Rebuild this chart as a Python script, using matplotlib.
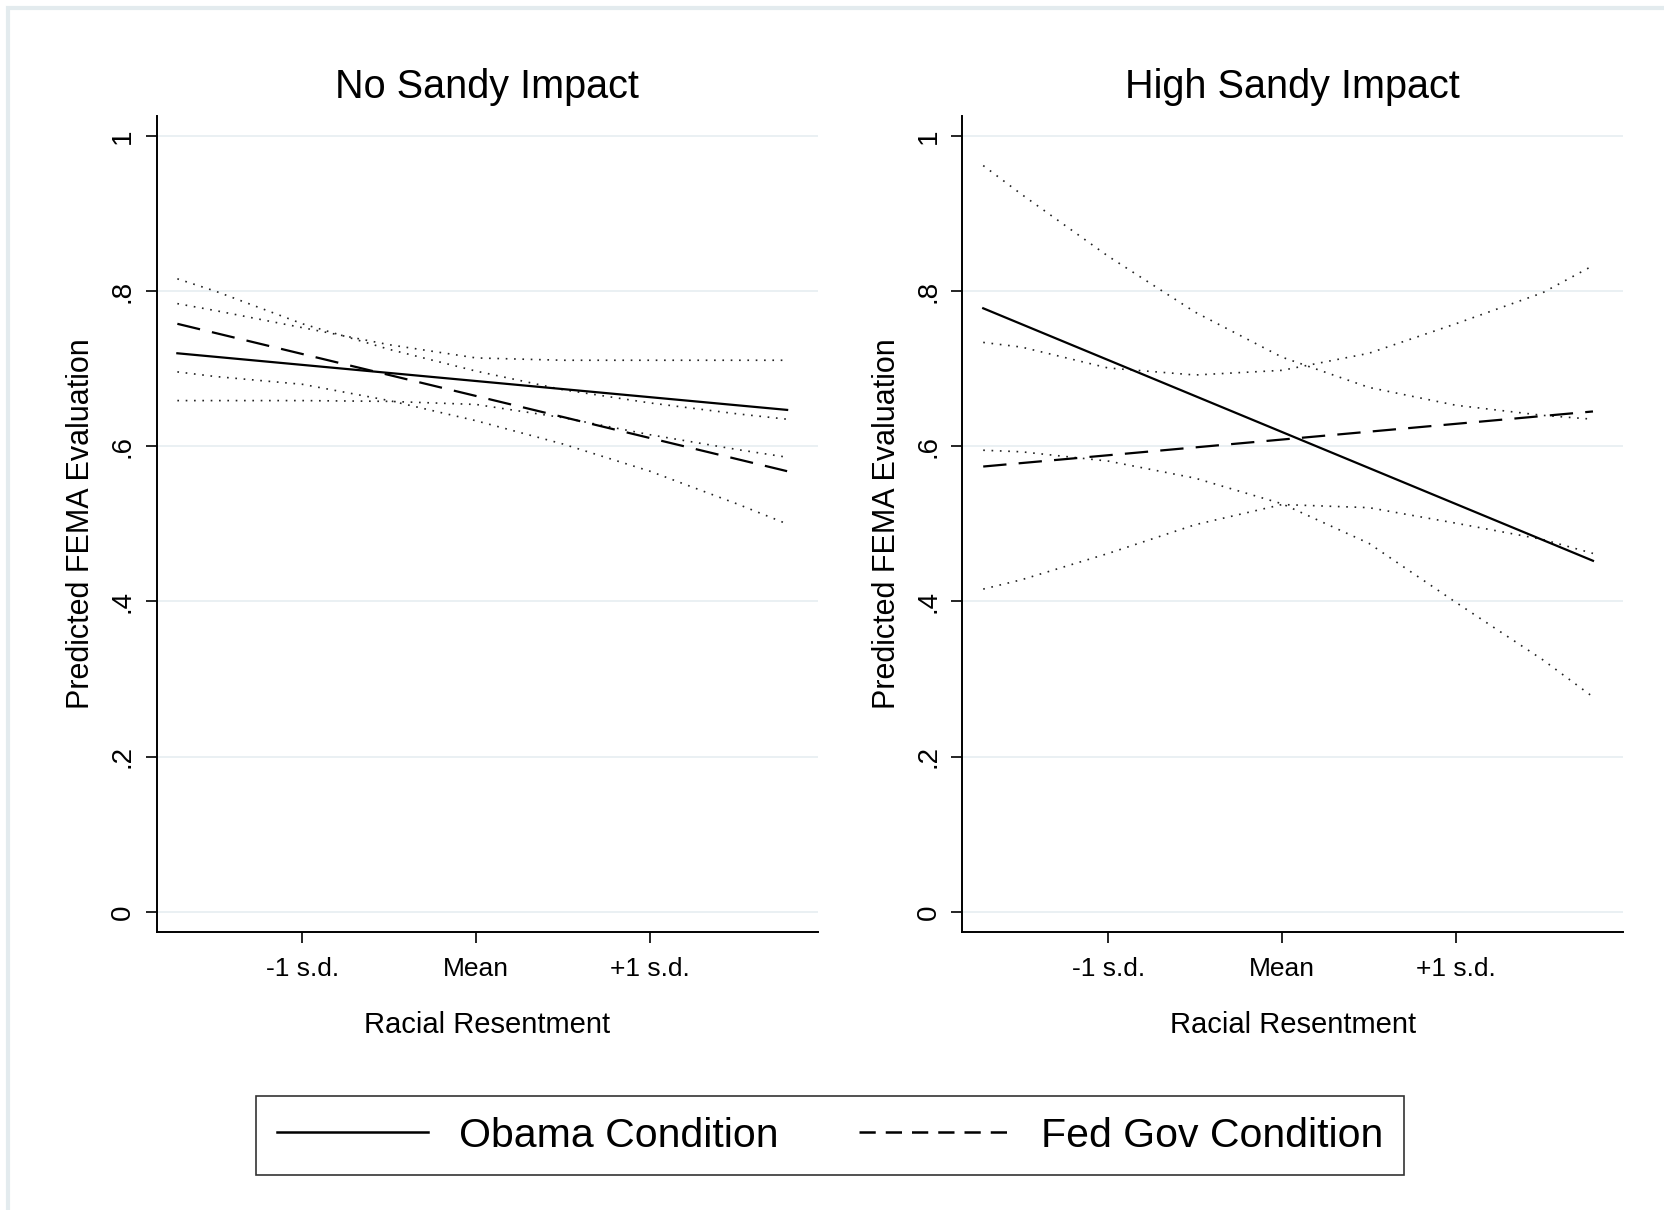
import matplotlib.pyplot as plt
from matplotlib.patches import Rectangle
from matplotlib.lines import Line2D

plt.rcParams['font.family'] = ['Liberation Sans', 'DejaVu Sans']

# racial resentment, in s.d. units around the mean
x_line = [-1.72, 1.79]
x_ci = [-1.72, -1.5, -1.0, -0.5, 0.0, 0.5, 1.0, 1.5, 1.79]

# No Sandy Impact
no_obama = [0.720, 0.647]
no_fed = [0.758, 0.568]
no_obama_hi = [0.784, 0.775, 0.753, 0.731, 0.714, 0.711, 0.711, 0.711, 0.711]
no_obama_lo = [0.659, 0.659, 0.659, 0.658, 0.654, 0.637, 0.615, 0.596, 0.586]
no_fed_hi = [0.816, 0.800, 0.758, 0.725, 0.697, 0.673, 0.656, 0.642, 0.635]
no_fed_lo = [0.696, 0.690, 0.680, 0.659, 0.633, 0.603, 0.568, 0.526, 0.500]

# High Sandy Impact
hi_obama = [0.778, 0.4525]
hi_fed = [0.574, 0.645]
hi_obama_hi = [0.962, 0.925, 0.845, 0.773, 0.715, 0.676, 0.653, 0.640, 0.635]
hi_obama_lo = [0.595, 0.593, 0.581, 0.559, 0.526, 0.475, 0.399, 0.325, 0.277]
hi_fed_hi = [0.734, 0.728, 0.701, 0.692, 0.698, 0.720, 0.758, 0.798, 0.833]
hi_fed_lo = [0.416, 0.428, 0.462, 0.499, 0.525, 0.521, 0.501, 0.480, 0.462]

titles = ["No Sandy Impact", "High Sandy Impact"]
yticks = [0, 0.2, 0.4, 0.6, 0.8, 1.0]
ytick_labels = ["0", ".2", ".4", ".6", ".8", "1"]
xticks = [-1, 0, 1]
xtick_labels = ["-1 s.d.", "Mean", "+1 s.d."]

panels = [
    (no_obama, no_fed, no_obama_hi, no_obama_lo, no_fed_hi, no_fed_lo),
    (hi_obama, hi_fed, hi_obama_hi, hi_obama_lo, hi_fed_hi, hi_fed_lo),
]

fig = plt.figure(figsize=(16.65, 12.10), dpi=100)

# light frame around the graph region
fig.patches.append(Rectangle((0.005, -0.01), 1.1, 1.003, transform=fig.transFigure,
                             fill=False, edgecolor='#e3ebee', linewidth=3))

grid_col = '#e6eef1'
dot = (0, (1, 4))

lefts = [0.094, 0.578]
for i, (obama, fed, ob_hi, ob_lo, fd_hi, fd_lo) in enumerate(panels):
    ax = fig.add_axes([lefts[i], 0.2298, 0.397, 0.6744])
    for yv in yticks:
        ax.axhline(yv, color=grid_col, lw=1.2, zorder=0)

    ax.plot(x_ci, ob_hi, color='#222222', lw=1.2, linestyle=dot)
    ax.plot(x_ci, ob_lo, color='#222222', lw=1.2, linestyle=dot)
    ax.plot(x_ci, fd_hi, color='#222222', lw=1.2, linestyle=dot)
    ax.plot(x_ci, fd_lo, color='#222222', lw=1.2, linestyle=dot)
    ax.plot(x_line, obama, color='black', lw=1.6)
    ax.plot(x_line, fed, color='black', lw=1.6, linestyle=(0, (10.5, 5.5)))

    ax.set_xlim(-1.84, 1.965)
    ax.set_ylim(-0.026, 1.026)
    ax.set_yticks(yticks)
    ax.set_yticklabels(ytick_labels, rotation=90, va='center', fontsize=20)
    ax.set_xticks(xticks)
    ax.set_xticklabels(xtick_labels, fontsize=19)
    ax.tick_params(axis='both', direction='out', length=8, width=1.2, color='black')
    ax.tick_params(axis='y', pad=7)
    ax.tick_params(axis='x', pad=10)
    for s in ['top', 'right']:
        ax.spines[s].set_visible(False)
    for s in ['left', 'bottom']:
        ax.spines[s].set_linewidth(1.4)
    ax.set_title(titles[i], fontsize=28.5, pad=13)
    ax.set_xlabel("Racial Resentment", fontsize=21, labelpad=22)
    ax.set_ylabel("Predicted FEMA Evaluation", fontsize=22, labelpad=10)

handles = [Line2D([], [], color='black', lw=1.8),
           Line2D([], [], color='black', lw=1.8, linestyle=(0, (6.5, 4)))]
leg = fig.legend(handles, ["Obama Condition", "Fed Gov Condition"], loc='center',
                 bbox_to_anchor=(0.4985, 0.0614), ncol=2, fontsize=29.5, frameon=True,
                 fancybox=False, edgecolor='black', handlelength=3.7, handletextpad=0.75,
                 columnspacing=1.95, borderpad=0.5)
leg.get_frame().set_linewidth(1.2)

fig.savefig("out.png", dpi=100, facecolor='white')
